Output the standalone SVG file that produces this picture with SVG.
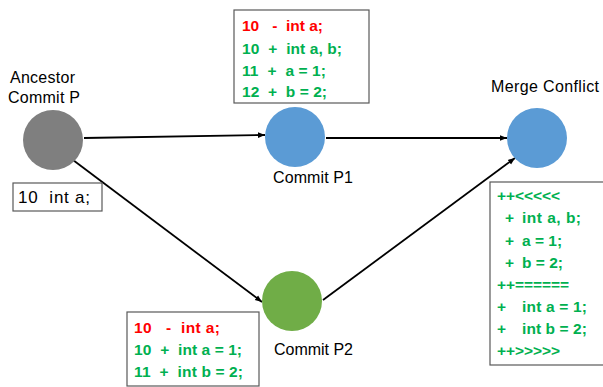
<svg xmlns="http://www.w3.org/2000/svg" width="603" height="387" viewBox="0 0 603 387">
<defs>
<marker id="ah" markerWidth="8" markerHeight="8" refX="7" refY="4" orient="auto" markerUnits="userSpaceOnUse">
<path d="M0,1.2 L7,4 L0,6.8 Z" fill="#000"/>
</marker>
<style>
.lbl{font-family:"Liberation Sans",Arial,sans-serif;font-size:16px;fill:#000}
.code{font-family:"Liberation Sans",Arial,sans-serif;font-size:15.5px;font-weight:bold}
.red{fill:#ff0000}
.grn{fill:#00b050}
.box{fill:#fff;stroke:#595959;stroke-width:1.2}
.conn{stroke:#000;stroke-width:1.8;fill:none;marker-end:url(#ah)}
</style>
</defs>
<rect width="603" height="387" fill="#fff"/>
<g id="connectors">
<line class="conn" x1="84" y1="138" x2="265" y2="135"/>
<line class="conn" x1="326" y1="138" x2="507" y2="138"/>
<line class="conn" x1="73" y1="160" x2="262" y2="302"/>
<line class="conn" x1="323" y1="300" x2="515" y2="158"/>
</g>
<g id="ancestor">
<text class="lbl" x="10" y="83" textLength="65">Ancestor</text>
<text class="lbl" x="8" y="103" textLength="72">Commit P</text>
<circle cx="53" cy="140" r="30" fill="#7f7f7f"/>
<rect class="box" x="13" y="183" width="89" height="28"/>
<text class="lbl" x="18" y="203" style="font-size:17px" textLength="72" xml:space="preserve">10  int a;</text>
</g>
<g id="p1">
<circle cx="295" cy="137" r="30" fill="#5b9bd5"/>
<text class="lbl" x="273" y="183" textLength="80">Commit P1</text>
<rect class="box" x="234" y="10" width="135" height="93"/>
<text class="code red" x="242" y="31" textLength="81" xml:space="preserve">10   -  int a;</text>
<text class="code grn" x="242" y="54" textLength="100" xml:space="preserve">10  +  int a, b;</text>
<text class="code grn" x="242" y="76" textLength="84" xml:space="preserve">11  +  a = 1;</text>
<text class="code grn" x="242" y="97" textLength="85" xml:space="preserve">12  +  b = 2;</text>
</g>
<g id="p2">
<circle cx="292" cy="301" r="30" fill="#70ad47"/>
<text class="lbl" x="274" y="355" textLength="79">Commit P2</text>
<rect class="box" x="127" y="312" width="132" height="74"/>
<text class="code red" x="134" y="333" textLength="86" xml:space="preserve">10   -  int a;</text>
<text class="code grn" x="134" y="355" textLength="108" xml:space="preserve">10  +  int a = 1;</text>
<text class="code grn" x="134" y="377" textLength="109" xml:space="preserve">11  +  int b = 2;</text>
</g>
<g id="merge">
<circle cx="537" cy="138" r="30" fill="#5b9bd5"/>
<text class="lbl" x="491" y="92" textLength="108">Merge Conflict</text>
<rect class="box" x="490" y="182" width="118" height="183"/>
<text class="code grn" x="497" y="201" textLength="63">++&lt;&lt;&lt;&lt;&lt;</text>
<text class="code grn" x="505" y="223">+</text><text class="code grn" x="522" y="223" textLength="59">int a, b;</text>
<text class="code grn" x="505" y="246">+</text><text class="code grn" x="522" y="246">a = 1;</text>
<text class="code grn" x="505" y="268">+</text><text class="code grn" x="522" y="268">b = 2;</text>
<text class="code grn" x="497" y="290" textLength="72">++======</text>
<text class="code grn" x="497" y="312">+</text><text class="code grn" x="522" y="312" textLength="65">int a = 1;</text>
<text class="code grn" x="497" y="334">+</text><text class="code grn" x="522" y="334" textLength="65">int b = 2;</text>
<text class="code grn" x="497" y="356" textLength="63">++&gt;&gt;&gt;&gt;&gt;</text>
</g>
</svg>
